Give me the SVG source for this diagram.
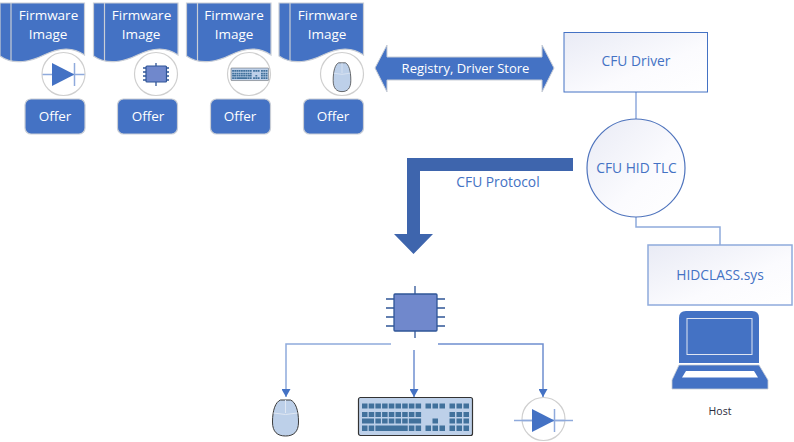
<svg xmlns="http://www.w3.org/2000/svg" xmlns:xlink="http://www.w3.org/1999/xlink" width="794" height="442" viewBox="0 0 794 442">
<style>
text{font-family:"Open Sans","Noto Sans","Liberation Sans",sans-serif;text-anchor:middle}
.w{fill:#fff;font-size:13.5px}
.b{fill:#4472c4;font-size:13.800px}
.doc{fill:#4472c4;stroke:#c9ced6;stroke-width:1.2}
.in{fill:none;stroke:#c9ced6;stroke-width:1.2}
.ring{fill:#fff;stroke:#cfcfcf;stroke-width:1.2}
.offer{fill:#4472c4;stroke:#c9ced6;stroke-width:1.2}
.box{fill:url(#g);stroke:#8faadc;stroke-width:1.5}
.pin{stroke:#2f5597;stroke-width:1.3}
.line{fill:none;stroke:#8faadc;stroke-width:1.5}
.k{fill:#41719c}
</style>
<defs>
<linearGradient id="g" x1="0" y1="0" x2="1" y2="1"><stop offset="0" stop-color="#e9ebf5"/><stop offset=".6" stop-color="#fbfbfe"/><stop offset="1" stop-color="#fff"/></linearGradient>
<marker id="ah" markerWidth="9" markerHeight="9" refX="8" refY="4.5" orient="auto" markerUnits="userSpaceOnUse"><path d="M0 0L8 4.5L0 9z" fill="#4472c4"/></marker>
<g id="docshape"><path class="doc" d="M-10 3H74.500V55C62 46 48 48 34 55C22 61 4 66 -10 56Z"/><path class="in" d="M1 3V61"/></g>
<g id="mouse"><path d="M-13 18C-13 6-10-2-5-4H5C10-2 13 6 13 18C13 28 8 32 0 32C-8 32-13 28-13 18Z" fill="#bdd0e9" stroke="#3b3b3b" stroke-width="1"/><path d="M-12 9Q0 12 12 9M0-4V9" fill="none" stroke="#dfe7f3" stroke-width="1"/></g>
<g id="diode"><path d="M-21 0H21" stroke="#8faadc" stroke-width="1.5"/><path d="M-11.500-11.500V11.500L11 0Z" fill="#4472c4"/><path d="M11-11.500V11.500" stroke="#8faadc" stroke-width="1.5"/></g>
<g id="keyrows" class="k">
<path d="M3.500 6h5.500v5h-5.500zM10.200 6h5.500v5h-5.500zM16.900 6h5.500v5h-5.500zM23.600 6h5.500v5h-5.500zM30.300 6h5.500v5h-5.500zM37 6h5.500v5h-5.500zM43.700 6h5.500v5h-5.500zM50.400 6h5.500v5h-5.500zM57.100 6h5.500v5h-5.500zM67 6h5.500v5h-5.500zM74 6h5.500v5h-5.500zM81 6h5.500v5h-5.500zM91 6h5.500v5h-5.500zM98 6h5.500v5h-5.500zM105 6h5.500v5h-5.500z"/>
<path d="M3.500 14.500h5.500v5h-5.500zM10.200 14.500h5.500v5h-5.500zM16.900 14.500h5.500v5h-5.500zM23.600 14.500h5.500v5h-5.500zM30.300 14.500h5.500v5h-5.500zM37 14.500h5.500v5h-5.500zM43.700 14.500h5.500v5h-5.500zM50.400 14.500h5.500v5h-5.500zM57.100 14.500h5.500v5h-5.500zM91 14.500h5.500v5h-5.500zM98 14.500h5.500v5h-5.500zM105 14.500h5.500v5h-5.500z"/>
<path d="M3.500 21h12v5h-12zM16.900 21h5.500v5h-5.500zM23.600 21h5.500v5h-5.500zM30.300 21h5.500v5h-5.500zM37 21h5.500v5h-5.500zM43.700 21h5.500v5h-5.500zM50.400 21h12.200v5h-12.200zM74 21h5.500v5h-5.500zM91 21h5.500v5h-5.500zM98 21h5.500v5h-5.500zM105 21h5.500v5h-5.500z"/>
<path d="M3.500 28h5.500v5.500h-5.500zM10.200 28h5.500v5.500h-5.500zM16.900 28h32.300v5.500h-32.300zM50.400 28h5.500v5.500h-5.500zM57.100 28h5.500v5.500h-5.500zM67 28h5.500v5.500h-5.500zM74 28h5.500v5.500h-5.500zM81 28h5.500v5.500h-5.500zM91 28h5.500v5.500h-5.500zM98 28h5.500v5.500h-5.500zM105 28h5.500v5.500h-5.500z"/>
</g>
<g id="kbd"><rect x="0" y="0" width="114" height="38" rx="2" fill="#bdd0e9" stroke="#333" stroke-width="1.2"/><use xlink:href="#keyrows"/></g>
</defs>

<g id="connectors">
<path class="line" d="M636 92V119"/>
<path class="line" d="M636 217V227H720V245"/>
<path class="line" d="M391 344H286V397" marker-end="url(#ah)"/>
<path class="line" d="M414 350V397" marker-end="url(#ah)" style="stroke:#6f8fd0"/>
<path class="line" d="M438 344H543V397" marker-end="url(#ah)" style="stroke:#6f8fd0"/>
<path d="M573 158V171H420V234H433L413.500 254L394 234H407V158Z" fill="#3e65ad"/>
</g>
<text class="b" x="498" y="187">CFU Protocol</text>

<g id="fw1"><use xlink:href="#docshape" transform="translate(10,0)"/><text class="w" x="48.500" y="20">Firmware</text><text class="w" x="48" y="39">Image</text></g>
<g id="icon1"><circle class="ring" cx="63.500" cy="74" r="21.500"/><use xlink:href="#diode" transform="translate(63.500,74.500)"/></g>
<g id="offer1"><rect class="offer" x="25" y="99" width="60" height="35" rx="6"/><text class="w" x="55" y="121">Offer</text></g>

<g id="fw2"><use xlink:href="#docshape" transform="translate(103.500,0)"/><text class="w" x="141.500" y="20">Firmware</text><text class="w" x="141" y="39">Image</text></g>
<g id="icon2"><circle class="ring" cx="156" cy="74" r="21.500"/><g class="pin"><path d="M156 63V86M143 68H169M143 72H169M143 76H169M143 80H169"/></g><rect x="146" y="66" width="20.500" height="16" rx="1" fill="#7088cc" stroke="#2f5597" stroke-width="1.2"/></g>
<g id="offer2"><rect class="offer" x="117.500" y="99" width="60" height="35" rx="6"/><text class="w" x="148" y="121">Offer</text></g>

<g id="fw3"><use xlink:href="#docshape" transform="translate(196.500,0)"/><text class="w" x="234" y="20">Firmware</text><text class="w" x="234" y="39">Image</text></g>
<g id="icon3"><circle class="ring" cx="249" cy="74" r="21.500"/><use xlink:href="#kbd" transform="translate(231,68) scale(.33)"/></g>
<g id="offer3"><rect class="offer" x="210.500" y="99" width="60" height="35" rx="6"/><text class="w" x="240" y="121">Offer</text></g>

<g id="fw4"><use xlink:href="#docshape" transform="translate(289,0)"/><text class="w" x="327.500" y="20">Firmware</text><text class="w" x="327" y="39">Image</text></g>
<g id="icon4"><circle class="ring" cx="342" cy="74" r="21.500"/><use xlink:href="#mouse" transform="translate(342,66) scale(.68,.8)"/></g>
<g id="offer4"><rect class="offer" x="303.500" y="99" width="60" height="35" rx="6"/><text class="w" x="333" y="121">Offer</text></g>

<g id="registry"><path d="M375 68L387 45V57H542V45L554 68L542 92V80H387V92Z" fill="#4472c4" stroke="#c9ced6" stroke-width="1"/><text x="465.500" y="73" fill="#fff" font-size="13">Registry, Driver Store</text></g>

<g id="driver"><rect class="box" x="564" y="32.500" width="143.500" height="59.500" style="stroke:#4472c4;stroke-width:1"/><text class="b" x="636" y="66">CFU Driver</text></g>
<g id="tlc"><circle cx="636" cy="168" r="49" fill="url(#g)" stroke="#4f74bd" stroke-width="1.2"/><text class="b" x="636.500" y="173">CFU HID TLC</text></g>
<g id="hidclass"><rect class="box" x="648" y="245" width="144" height="60"/><text class="b" x="720" y="280">HIDCLASS.sys</text></g>
<g id="host"><path d="M679 363V318Q679 311 686 311H752Q759 311 759 318V363Z" fill="#4472c4"/><rect x="687" y="318.500" width="65" height="36" fill="none" stroke="#dfe5f2" stroke-width="1"/><path d="M679 365H759L768 380V389H672V380Z" fill="#4472c4" stroke="#c9ced6" stroke-width=".8"/><path d="M686 371H754L758 377.500H682Z" fill="#fff"/><text x="720" y="415" fill="#2b2b3b" font-size="10.500">Host</text></g>

<g id="chip"><g class="pin"><path d="M415 286V294M415 331V338M386 299H394M386 308H394M386 317H394M386 326H394M437 299H445M437 308H445M437 317H445M437 326H445"/></g><rect x="394" y="294" width="43" height="37" rx="1" fill="#7088cc" stroke="#2f5597" stroke-width="1.3"/></g>
<g id="mouse2"><use xlink:href="#mouse" transform="translate(285.500,404)"/></g>
<g id="keyboard"><use xlink:href="#kbd" transform="translate(358.500,397.500)"/></g>
<g id="diode2"><circle class="ring" cx="543.500" cy="419" r="21.500" style="fill:none"/><path d="M514 420.500H573" stroke="#8faadc" stroke-width="1.5"/><use xlink:href="#diode" transform="translate(543.500,420.500)"/></g>
</svg>
